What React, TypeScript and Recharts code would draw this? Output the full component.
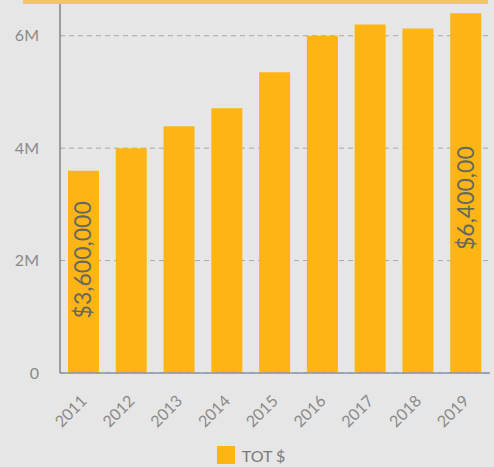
import React from "react";
import { BarChart, Bar, XAxis, YAxis, CartesianGrid, Legend, LabelList } from "recharts";

const years = ["2011", "2012", "2013", "2014", "2015", "2016", "2017", "2018", "2019"];
const totals = [3600000, 4000000, 4390000, 4710000, 5350000, 6000000, 6200000, 6130000, 6400000];
const valueLabels = ["$3,600,000", "", "", "", "", "", "", "", "$6,400,00"];
const yTicks = [0, 2000000, 4000000, 6000000];
const seriesName = "TOT $";

const data = years.map((y, i) => ({ year: y, tot: totals[i], lbl: valueLabels[i] }));

const BAR_COLOR = "#FDB515";
const FONT = "Lato, 'Open Sans', sans-serif";

const fmtY = (v: number) => (v === 0 ? "0" : `${v / 1000000}M`);

const ValueLabel = (props: any) => {
  const { x, y, width, height, value, index } = props;
  if (!value) return null;
  const adj = index === 0 ? -12 : 5;
  const cx = x + width / 2 - 1;
  const cy = y + height / 2 + adj;
  return (
    <text
      x={cx}
      y={cy}
      transform={`rotate(-90 ${cx} ${cy})`}
      textAnchor="middle"
      dominantBaseline="central"
      fill="#66695a"
      fontSize={23}
      fontFamily={FONT}
    >
      {value}
    </text>
  );
};

const XTick = (props: any) => {
  const { x, y, payload } = props;
  const tx = x + 4;
  const ty = y + 21;
  return (
    <text
      x={tx}
      y={ty}
      transform={`rotate(-45 ${tx} ${ty})`}
      textAnchor="end"
      fill="#8a8a8a"
      fontSize={16}
      fontFamily={FONT}
    >
      {payload.value}
    </text>
  );
};

const LegendContent = () => (
  <div
    style={{
      display: "flex",
      justifyContent: "center",
      alignItems: "center",
      height: 24,
      paddingLeft: 12,
      fontFamily: FONT,
    }}
  >
    <span style={{ width: 18, height: 18, background: BAR_COLOR, display: "inline-block", marginRight: 7 }} />
    <span style={{ color: "#7a7a7a", fontSize: 16 }}>{seriesName}</span>
  </div>
);

export default function App() {
  return (
    <div style={{ position: "absolute", left: 0, top: 0, width: 494, height: 467, background: "#e6e6e6", overflow: "hidden" }}>
      <BarChart
        width={494}
        height={467}
        data={data}
        margin={{ top: 2, right: 4, left: 0, bottom: 0 }}
        barSize={31}
      >
        <CartesianGrid vertical={false} stroke="#a8a8a8" strokeDasharray="5 4" />
        <XAxis
          dataKey="year"
          axisLine={{ stroke: "#8a96a8", strokeWidth: 1.5 }}
          tickLine={false}
          tick={<XTick />}
          height={70}
          interval={0}
        />
        <YAxis
          width={60}
          domain={[0, 6600000]}
          ticks={yTicks}
          tickFormatter={fmtY}
          axisLine={{ stroke: "#555555" }}
          tickLine={false}
          tickSize={0}
          tickMargin={21}
          tick={{ fill: "#8a8a8a", fontSize: 16, fontFamily: FONT }}
        />
        <Legend verticalAlign="bottom" height={24} content={<LegendContent />} />
        <Bar dataKey="tot" name={seriesName} fill={BAR_COLOR} isAnimationActive={false}>
          <LabelList dataKey="lbl" content={<ValueLabel />} />
        </Bar>
      </BarChart>
      <div style={{ position: "absolute", left: 23, top: 0, width: 465, height: 4, background: "#f2c665", zIndex: 5 }} />
    </div>
  );
}
